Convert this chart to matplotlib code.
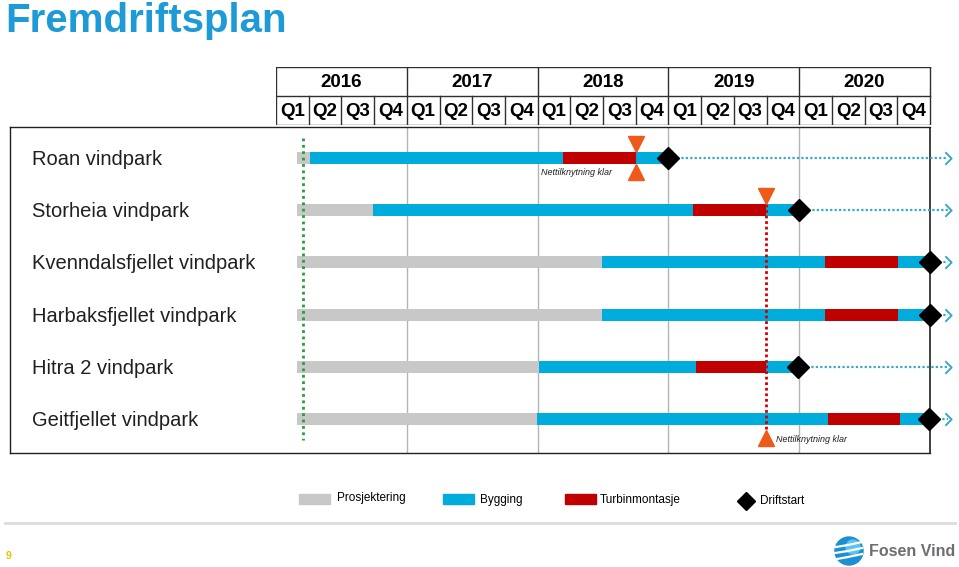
import matplotlib
matplotlib.use('Agg')
import matplotlib.pyplot as plt
from matplotlib.lines import Line2D
from matplotlib.patches import Rectangle, Ellipse
from matplotlib.path import Path
from matplotlib.transforms import blended_transform_factory

plt.rcParams['font.family'] = ['Liberation Sans', 'DejaVu Sans']

# data (years as decimals)
projects = ['Roan vindpark', 'Storheia vindpark', 'Kvenndalsfjellet vindpark',
            'Harbaksfjellet vindpark', 'Hitra 2 vindpark', 'Geitfjellet vindpark']
prosj_start = [2016.16, 2016.16, 2016.16, 2016.16, 2016.16, 2016.16]
bygg_start = [2016.26, 2016.745, 2018.49, 2018.49, 2018.01, 2017.993]
turbin_start = [2018.198, 2019.185, 2020.194, 2020.194, 2019.214, 2020.217]
turbin_end = [2018.751, 2019.744, 2020.753, 2020.753, 2019.748, 2020.773]
driftstart = [2018.997, 2020.0, 2021.0, 2021.0, 2019.99, 2020.99]
years = [2016, 2017, 2018, 2019, 2020]
quarters = ['Q1', 'Q2', 'Q3', 'Q4']
nett_roan = 2018.751     # Nettilknytning klar, Roan
nett_storheia = 2019.745  # Nettilknytning klar, Storheia
today_line = 2016.206
arrow_end = 2021.138

c_gray = '#c8c8c8'
c_blue = '#00acdc'
c_red = '#c00000'
c_orange = '#ee5a1a'
c_arrow = '#3aa6c8'

W, H = 959, 567
def fx(px):
    return px / W
def fy(py):
    return 1 - py / H

fig = plt.figure(figsize=(9.59, 5.67), dpi=100)

# title
fig.text(fx(5), fy(21), 'Fremdriftsplan', color='#1e9ad6', fontsize=29,
         fontweight='bold', va='center', ha='left')

# main gantt axes
xmin, xmax = 2016, 2016 + (959 - 276) / 130.8
ax = fig.add_axes([fx(276), fy(453), 1 - fx(276), (453 - 127) / H])
ax.set_xlim(xmin, xmax)
ax.set_ylim(5.651, -0.594)
ax.axis('off')

for yr in years[1:]:
    ax.axvline(yr, color='#b4b4b4', lw=1, zorder=0)
ax.axvline(years[-1] + 1, color='#202020', lw=1.2, zorder=0)

# box round the body
for xs, ys in [([10, 930], [127, 127]), ([10, 930], [453, 453]), ([10, 10], [127, 453])]:
    fig.add_artist(Line2D([fx(x) for x in xs], [fy(y) for y in ys], color='#202020', lw=1))

bh = 0.23
chevron = Path([(-0.5, 1), (0.5, 0), (-0.5, -1)], [Path.MOVETO, Path.LINETO, Path.LINETO])
for i in range(len(projects)):
    ax.barh(i, bygg_start[i] - prosj_start[i], left=prosj_start[i], height=bh, color=c_gray, zorder=2)
    ax.barh(i, turbin_start[i] - bygg_start[i], left=bygg_start[i], height=bh, color=c_blue, zorder=2)
    ax.barh(i, turbin_end[i] - turbin_start[i], left=turbin_start[i], height=bh, color=c_red, zorder=2)
    ax.barh(i, driftstart[i] - turbin_end[i], left=turbin_end[i], height=bh, color=c_blue, zorder=2)
    # dotted arrow after driftstart
    ax.plot([driftstart[i], arrow_end], [i, i], ls=(0, (1, 1)), color=c_arrow, lw=1.6, zorder=3)
    ax.plot(arrow_end, i, marker=chevron, ms=9, mfc='none', mec=c_arrow, mew=1.4, zorder=3)
    ax.plot(driftstart[i], i, marker='D', ms=11, color='black', zorder=5)

# row labels
trans = blended_transform_factory(fig.transFigure, ax.transData)
for i, name in enumerate(projects):
    ax.text(fx(32), i + 0.03, name, transform=trans, fontsize=14.5, va='center', ha='left', color='#202020')

# green "today" line
ax.plot([today_line, today_line], [-0.38, 5.4], ls=(0, (1, 1.3)), color='#2a9d3a', lw=2, zorder=4)

# Roan grid connection: bowtie
ax.plot(nett_roan, 0 - 0.26, marker='v', ms=11, color=c_orange, zorder=6)
ax.plot(nett_roan, 0 + 0.26, marker='^', ms=11, color=c_orange, zorder=6)
ax.annotate('Nettilknytning klar', xy=(nett_roan, 0.28), xytext=(-17, 0), textcoords='offset points',
            ha='right', va='center', fontsize=6.5, style='italic', color='#202020')

# Storheia grid connection: dotted line down to bottom
ax.plot([nett_storheia, nett_storheia], [1 - 0.12, 5.22], ls=(0, (1, 1)), color='#d00000', lw=2, zorder=4)
ax.plot(nett_storheia, 1 - 0.27, marker='v', ms=11, color=c_orange, zorder=6)
ax.plot(nett_storheia, 5 + 0.36, marker='^', ms=11, color=c_orange, zorder=6)
ax.annotate('Nettilknytning klar', xy=(nett_storheia, 5.39), xytext=(7, 0), textcoords='offset points',
            ha='left', va='center', fontsize=6.5, style='italic', color='#202020')

# header with years and quarters
axh = fig.add_axes([fx(276), fy(125), 1 - fx(276), (125 - 67) / H])
axh.set_xlim(xmin, xmax)
axh.set_ylim(0, 2)
axh.axis('off')
lc = '#303030'
for yv in [0, 1, 2]:
    axh.plot([years[0], years[-1] + 1], [yv, yv], color=lc, lw=1)
for yr in years + [years[-1] + 1]:
    axh.plot([yr, yr], [0, 2], color=lc, lw=1)
for yr in years:
    axh.text(yr + 0.5, 1.45, str(yr), ha='center', va='center', fontsize=13.5, fontweight='bold')
    for q, lab in enumerate(quarters):
        if q > 0:
            axh.plot([yr + q / 4, yr + q / 4], [0, 1], color=lc, lw=1)
        axh.text(yr + (q + 0.5) / 4, 0.47, lab, ha='center', va='center', fontsize=13.5, fontweight='bold')

# legend
leg = [('Prosjektering', c_gray, 299, 337, 498), ('Bygging', c_blue, 443, 480, 500),
       ('Turbinmontasje', c_red, 565, 600, 500)]
for lab, col, rx, tx, ty in leg:
    fig.add_artist(Rectangle((fx(rx), fy(504)), 31 / W, 10 / H, color=col))
    fig.text(fx(tx), fy(ty), lab, fontsize=8.5, va='center', ha='left')
fig.add_artist(Line2D([fx(746)], [fy(501)], marker='D', ms=9, color='black'))
fig.text(fx(760), fy(501), 'Driftstart', fontsize=8.5, va='center', ha='left')

# footer
fig.add_artist(Line2D([fx(5), fx(955)], [fy(523), fy(523)], color='#dcdcdc', lw=2))
fig.text(fx(6), fy(556), '9', color='#e8c300', fontsize=7.5, fontweight='bold', va='center')
# logo: blue ball with white stripes
fig.add_artist(Ellipse((fx(849), fy(551)), 28 / W, 28 / H, color='#1b8fd2'))
fig.add_artist(Ellipse((fx(853), fy(547)), 14 / W, 14 / H, color='#5cc3ee'))
for dy, x0 in [(-6, 836), (0, 835), (6, 837)]:
    fig.add_artist(Line2D([fx(x0), fx(848), fx(862)], [fy(551 + dy + 2), fy(551 + dy), fy(551 + dy - 3)],
                          color='white', lw=1.6))
fig.text(fx(869), fy(551), 'Fosen Vind', color='#6d6e71', fontsize=11.5, fontweight='bold',
         va='center', ha='left')

fig.savefig('out.png', dpi=100)
